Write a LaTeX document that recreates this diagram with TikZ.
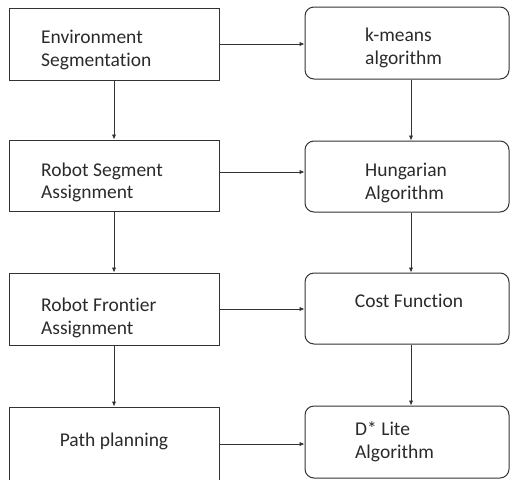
\documentclass[tikz,border=0pt]{standalone}
\usepackage{fontspec}
\setmainfont{Carlito}[Ligatures={NoCommon,NoContextual}]
\usetikzlibrary{arrows.meta}
\definecolor{ln}{HTML}{333333}
\definecolor{tx}{HTML}{2A2A2A}
\tikzset{
  sqbox/.style={draw=ln, line width=1pt, minimum width=210pt, inner sep=0pt},
  rdbox/.style={draw=ln, line width=1pt, minimum width=204pt, inner sep=0pt, rounded corners=9pt},
  lbl/.style={text=tx, align=left, inner sep=0pt, font=\fontsize{19.5}{22.5}\selectfont},
  arr/.style={draw=ln, line width=0.9pt, -{Latex[length=5pt,width=4.5pt]}}
}
\begin{document}
\begin{tikzpicture}[x=1pt,y=-1pt]
\useasboundingbox (0,0) rectangle (510,479);
\clip (0,0) rectangle (510,479);
% left boxes
\node[sqbox, minimum height=72pt] (l1) at (114,44) {};
\node[sqbox, minimum height=71pt] (l2) at (114,175.5) {};
\node[sqbox, minimum height=72pt] (l3) at (114,309) {};
\node[sqbox, minimum height=74pt] (l4) at (114,444) {};
% right boxes
\node[rdbox, minimum height=72pt] (r1) at (407,43) {};
\node[rdbox, minimum height=71pt] (r2) at (407,176.5) {};
\node[rdbox, minimum height=71pt] (r3) at (407,308.5) {};
\node[rdbox, minimum height=72pt] (r4) at (407,442) {};
% labels
\node[lbl, anchor=west] (t1) at (41,50) {Environment\\Segmentation};
\node[lbl, anchor=west] (t2) at (41,182.5) {Robot Segment\\Assignment};
\node[lbl, anchor=west] (t3) at (41,318) {Robot Frontier\\Assignment};
\node[lbl, anchor=base] (t4) at (114,446) {Path planning};
\node[lbl, anchor=west] (u1) at (365,48) {k-means\\algorithm};
\node[lbl, anchor=west] (u2) at (365,183) {Hungarian\\Algorithm};
\node[lbl, anchor=base] (u3) at (409,307) {Cost Function};
\node[lbl, anchor=west] (u4) at (355,441.5) {D* Lite\\Algorithm};
% horizontal arrows
\draw[arr] (l1.east) -- (l1.east -| r1.west);
\draw[arr] ([yshift=3.5pt]l2.east) -- ([yshift=3.5pt]l2.east -| r2.west);
\draw[arr] (l3.east) -- (l3.east -| r3.west);
\draw[arr] (l4.east) -- (l4.east -| r4.west);
% vertical arrows
\draw[arr] (l1.south) -- (l2.north);
\draw[arr] (l2.south) -- (l3.north);
\draw[arr] (l3.south) -- (l4.north);
\draw[arr] ([xshift=4pt]r1.south) -- ([xshift=4pt]r2.north);
\draw[arr] ([xshift=4pt]r2.south) -- ([xshift=4pt]r3.north);
\draw[arr] ([xshift=4pt]r3.south) -- ([xshift=4pt]r4.north);
\end{tikzpicture}
\end{document}
